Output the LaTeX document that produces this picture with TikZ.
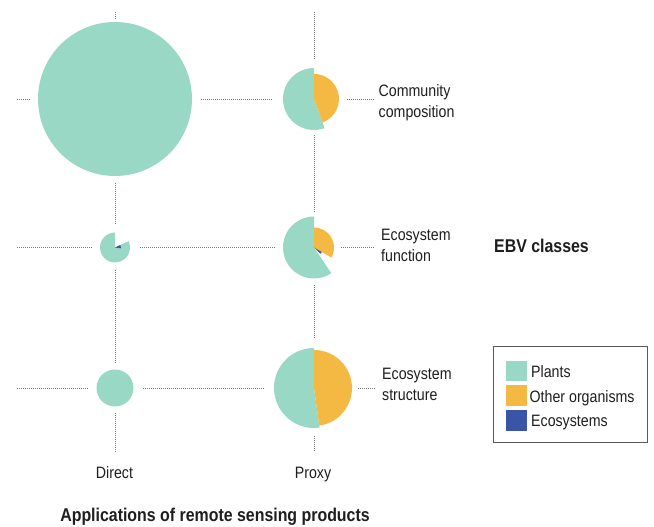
\documentclass[tikz,border=0pt]{standalone}
\usepackage{fontspec}
\setmainfont{Liberation Sans}[FakeStretch=0.86]
\definecolor{plant}{HTML}{98D8C4}
\definecolor{other}{HTML}{F4B942}
\definecolor{ecos}{HTML}{3A55A6}
\definecolor{ink}{HTML}{1E1E1E}
\definecolor{dots}{HTML}{7A7A7A}
\begin{document}
\begin{tikzpicture}[x=1pt,y=1pt,
  dotline/.style={draw=dots,line width=0.9pt,dash pattern=on 1pt off 1pt},
  lbl/.style={inner sep=0pt,text=ink,align=left,anchor=west,font=\fontsize{16.5}{21}\selectfont},
  axlbl/.style={inner sep=0pt,text=ink,anchor=base,font=\fontsize{16.5}{21}\selectfont},
  title/.style={inner sep=0pt,text=ink,anchor=base,font=\fontsize{18.5}{22}\selectfont\bfseries},
  swatch/.style={inner sep=0pt,minimum width=21pt,minimum height=20.5pt,anchor=north west},
  legtext/.style={inner sep=0pt,text=ink,anchor=base west,font=\fontsize{16.5}{21}\selectfont}]
\useasboundingbox (0,0) rectangle (654,527);
% pie centres
\coordinate (d1) at (115,428);
\coordinate (p1) at (314,428);
\coordinate (d2) at (115,279.5);
\coordinate (p2) at (314,279.5);
\coordinate (d3) at (115,139);
\coordinate (p3) at (314,139);
% dotted grid
\draw[dotline] (17,428) -- (30,428);
\draw[dotline] (201,428) -- (273,428);
\draw[dotline] (347,428) -- (374,428);
\draw[dotline] (17,279.5) -- (92,279.5);
\draw[dotline] (140,279.5) -- (276,279.5);
\draw[dotline] (341,279.5) -- (375,279.5);
\draw[dotline] (17,139) -- (88,139);
\draw[dotline] (143,139) -- (264,139);
\draw[dotline] (358,139) -- (375,139);
\draw[dotline] (115,515) -- (115,508);
\draw[dotline] (115,344) -- (115,302);
\draw[dotline] (115,257) -- (115,164);
\draw[dotline] (115,114) -- (115,75);
\draw[dotline] (314,515) -- (314,467);
\draw[dotline] (314,392) -- (314,315);
\draw[dotline] (314,242) -- (314,189);
\draw[dotline] (314,91) -- (314,75);
% Direct column
\fill[plant] (d1) circle[radius=77];
\fill[plant] (d2) -- ++(90:15) arc[start angle=90,end angle=385,radius=15] -- cycle;
\fill[ecos] (d2) -- ++(-8:6) arc[start angle=-8,end angle=25,radius=6] -- cycle;
\fill[plant] (d3) circle[radius=18.5];
% Proxy column
\fill[plant] (p1) -- ++(90:31) arc[start angle=90,end angle=290,radius=31] -- cycle;
\fill[other] (p1) -- ++(-70:25) arc[start angle=-70,end angle=90,radius=25] -- cycle;
\fill[plant] (p2) -- ++(90:31) arc[start angle=90,end angle=304,radius=31] -- cycle;
\fill[other] (p2) -- ++(-30:20) arc[start angle=-30,end angle=90,radius=20] -- cycle;
\fill[ecos] (p2) -- ++(-44:9) arc[start angle=-44,end angle=-30,radius=9] -- cycle;
\fill[plant] (p3) -- ++(90:40) arc[start angle=90,end angle=278,radius=40] -- cycle;
\fill[other] (p3) -- ++(-82:38) arc[start angle=-82,end angle=90,radius=38] -- cycle;
% row labels
\node[lbl] (l1) at (378.5,424) {Community\\composition};
\node[lbl] (l2) at (381,281.5) {Ecosystem\\function};
\node[lbl] (l3) at (382,142.5) {Ecosystem\\structure};
\node[title] (ebv) at (541.5,274) {EBV classes};
% column labels
\node[axlbl] (cd) at (114.5,48) {Direct};
\node[axlbl] (cp) at (313,48) {Proxy};
\node[title] (app) at (215,5) {Applications of remote sensing products};
% legend
\draw[draw=black!65,line width=0.8pt] (493,181) rectangle (647,85);
\node[swatch,fill=plant] (s1) at (506,166.5) {};
\node[swatch,fill=other] (s2) at (506,142) {};
\node[swatch,fill=ecos] (s3) at (506,117) {};
\node[legtext] (t1) at (531,149) {Plants};
\node[legtext] (t2) at (529.5,124) {Other organisms};
\node[legtext] (t3) at (531,100) {Ecosystems};
\end{tikzpicture}
\end{document}
